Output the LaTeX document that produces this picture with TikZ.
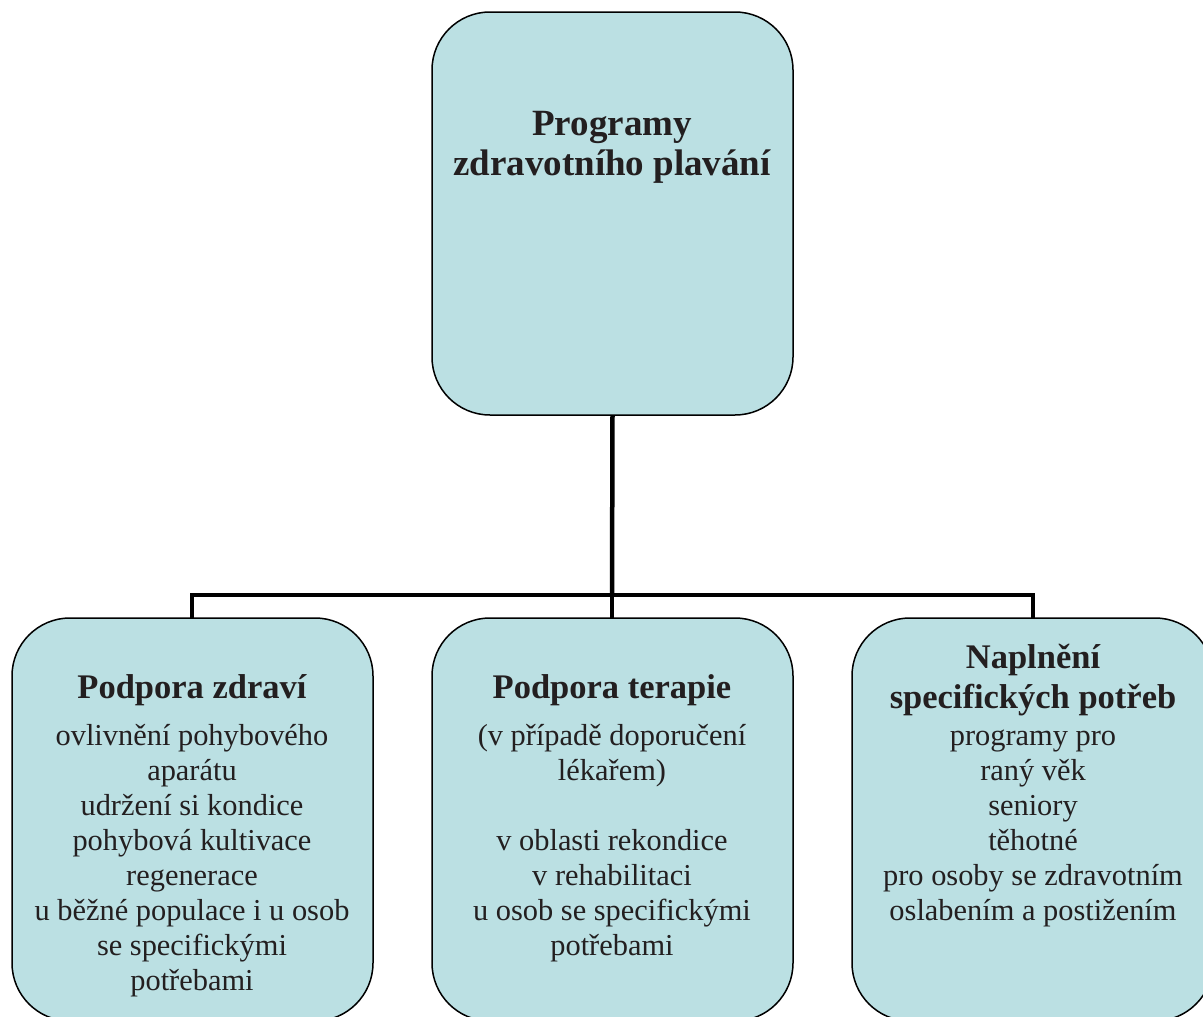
\documentclass[tikz,border=0pt]{standalone}
\usepackage{fontspec}
\setmainfont{Liberation Serif}
\definecolor{boxfill}{RGB}{187,224,227}
\definecolor{txt}{RGB}{35,31,32}
\tikzset{
  card/.style={draw=black, line width=1.5pt, fill=boxfill, rounded corners=58pt},
  conn/.style={line width=4.5pt, draw=black},
  headtop/.style={anchor=base, inner sep=0pt, text=txt, font=\fontsize{37}{44}\selectfont\bfseries},
  head/.style={anchor=base, inner sep=0pt, text=txt, font=\fontsize{34.5}{40}\selectfont\bfseries},
  body/.style={anchor=base, inner sep=0pt, text=txt, font=\fontsize{30.4}{35}\selectfont}
}
\begin{document}
\begin{tikzpicture}[x=1pt,y=-1pt]
\useasboundingbox (0,0) rectangle (1203,1017);
\begin{scope}
\clip (0,0) rectangle (1203,1017);
% connectors
\coordinate (jt) at (612,595);
\coordinate (jl) at (192,595);
\coordinate (jr) at (1033,595);
% boxes
\path[card] (432,12) rectangle (793,415);
\node[inner sep=0pt, minimum width=361pt, minimum height=403pt] (top) at (612.5,213.5) {};
\path[card] (12,618) rectangle (373,1021);
\node[inner sep=0pt, minimum width=361pt, minimum height=403pt] (left) at (192.5,819.5) {};
\path[card] (432,618) rectangle (793,1021);
\node[inner sep=0pt, minimum width=361pt, minimum height=403pt] (mid) at (612.5,819.5) {};
\path[card] (852,618) rectangle (1213,1021);
\node[inner sep=0pt, minimum width=361pt, minimum height=403pt] (right) at (1032.5,819.5) {};
\draw[conn] (top.south) -- (jt);
\draw[conn, line cap=rect] (jl) -- (jr);
\draw[conn] (jl) -- (jl |- left.north);
\draw[conn] (jt) -- (jt |- mid.north);
\draw[conn] (jr) -- (jr |- right.north);
% texts
\node[headtop] (t1) at (612,135) {Programy};
\node[headtop] (t2) at (612,175) {zdravotního plavání};
\node[head] (lh) at (192,698) {Podpora zdraví};
\foreach \t [count=\i] in {ovlivnění pohybového, aparátu, udržení si kondice, pohybová kultivace, regenerace, u běžné populace i u osob, se specifickými, potřebami}
  \node[body] (lb\i) at (192,{745+35*(\i-1)}) {\t};
\node[head] (mh) at (612,698) {Podpora terapie};
\node[body] (mb1) at (612,745) {(v případě doporučení};
\node[body] (mb2) at (612,780) {lékařem)};
\foreach \t/\y [count=\i from 3] in {v oblasti rekondice/850, v rehabilitaci/885, u osob se  specifickými/920, potřebami/955}
  \node[body] (mb\i) at (612,\y) {\t};
\node[head] (rh1) at (1033,668) {Naplnění};
\node[head] (rh2) at (1033,708) {specifických potřeb};
\foreach \t [count=\i] in {programy pro, raný věk, seniory, těhotné, pro osoby se zdravotním, oslabením a postižením}
  \node[body] (rb\i) at (1033,{745+35*(\i-1)}) {\t};
\end{scope}
\end{tikzpicture}
\end{document}
